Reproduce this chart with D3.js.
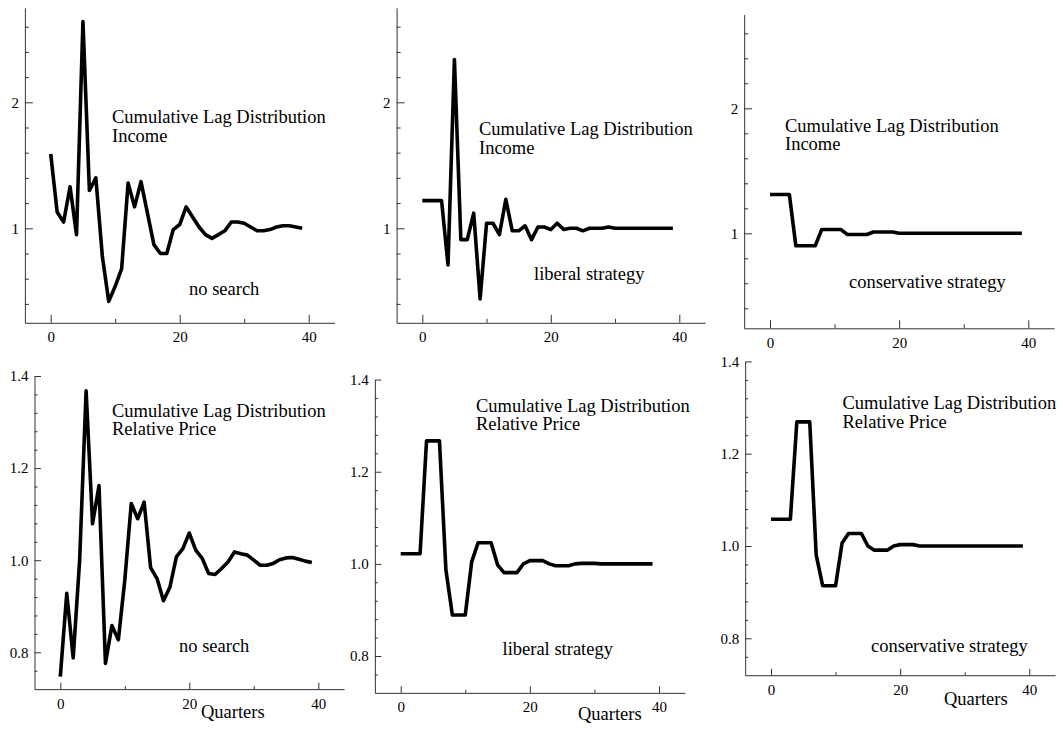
<!DOCTYPE html>
<html>

<head>
    <meta charset="utf-8">
    <script src="https://d3js.org/d3.v7.min.js"></script>
    <title>Cumulative Lag Distributions</title>
    <style>
        body {
            margin: 0;
            background: #fff;
        }

        svg text {
            font-family: 'Liberation Serif', 'Times New Roman', serif;
            fill: #000;
        }

        .axis path,
        .axis line {
            stroke: #333;
            stroke-width: 1px;
        }

        .axis text {
            font-size: 15px;
        }

        .note {
            font-size: 18.5px;
        }

        .series {
            fill: none;
            stroke: #000;
            stroke-width: 3.6px;
            stroke-linejoin: round;
        }
    </style>
</head>

<body>
    <svg id="chart" width="1063" height="729"></svg>

    <script>
        // values, one per quarter (0..39)
        var incomeNoSearch = [1.59, 1.13, 1.05, 1.33, 0.95, 2.64, 1.30, 1.40, 0.78, 0.42,
            0.54, 0.68, 1.36, 1.17, 1.37, 1.12, 0.87, 0.80, 0.80, 0.99,
            1.03, 1.17, 1.09, 1.01, 0.95, 0.92, 0.95, 0.98, 1.05, 1.05,
            1.04, 1.01, 0.98, 0.98, 0.99, 1.01, 1.02, 1.02, 1.01, 1.00];
        var incomeLiberal = [1.22, 1.22, 1.22, 1.22, 0.71, 2.34, 0.91, 0.91, 1.12, 0.44,
            1.04, 1.04, 0.95, 1.23, 0.98, 0.98, 1.02, 0.91, 1.01, 1.01,
            0.99, 1.04, 0.99, 1.00, 1.00, 0.98, 1.00, 1.00, 1.00, 1.01,
            1.00, 1.00, 1.00, 1.00, 1.00, 1.00, 1.00, 1.00, 1.00, 1.00];
        var incomeConservative = [1.31, 1.31, 1.31, 1.31, 0.90, 0.90, 0.90, 0.90, 1.03, 1.03,
            1.03, 1.03, 0.99, 0.99, 0.99, 0.99, 1.01, 1.01, 1.01, 1.01,
            1.00, 1.00, 1.00, 1.00, 1.00, 1.00, 1.00, 1.00, 1.00, 1.00,
            1.00, 1.00, 1.00, 1.00, 1.00, 1.00, 1.00, 1.00, 1.00, 1.00];
        var priceNoSearch = [0.747, 0.928, 0.788, 1.000, 1.368, 1.079, 1.162, 0.776, 0.858, 0.827,
            0.957, 1.123, 1.090, 1.126, 0.984, 0.960, 0.912, 0.942, 1.007, 1.025,
            1.059, 1.022, 1.004, 0.971, 0.969, 0.982, 0.996, 1.018, 1.014, 1.011,
            1.000, 0.989, 0.989, 0.993, 1.001, 1.005, 1.006, 1.002, 0.998, 0.995];
        var priceLiberal = [1.022, 1.022, 1.022, 1.022, 1.267, 1.267, 1.267, 0.987, 0.889, 0.889,
            0.889, 1.005, 1.046, 1.046, 1.046, 0.998, 0.981, 0.981, 0.981, 1.000,
            1.007, 1.007, 1.007, 1.000, 0.996, 0.996, 0.996, 1.000, 1.001, 1.001,
            1.001, 1.000, 1.000, 1.000, 1.000, 1.000, 1.000, 1.000, 1.000, 1.000];
        var priceConservative = [1.058, 1.058, 1.058, 1.058, 1.269, 1.269, 1.269, 0.980, 0.914, 0.914,
            0.914, 1.006, 1.027, 1.027, 1.027, 1.000, 0.991, 0.991, 0.991, 1.000,
            1.003, 1.003, 1.003, 1.000, 1.000, 1.000, 1.000, 1.000, 1.000, 1.000,
            1.000, 1.000, 1.000, 1.000, 1.000, 1.000, 1.000, 1.000, 1.000, 1.000];

        // tick labels
        var xMajor = [0, 20, 40];
        var xMinor = [10, 30];
        var incomeMajor = [1, 2];
        var incomeMinor = [0.4, 0.6, 0.8, 1.2, 1.4, 1.6, 1.8, 2.2, 2.4, 2.6];
        var priceMajor = [0.8, 1.0, 1.2, 1.4];
        var priceMinor = [0.76, 0.84, 0.88, 0.92, 0.96, 1.04, 1.08, 1.12, 1.16, 1.24, 1.28, 1.32, 1.36];

        var titleLine = "Cumulative Lag Distribution";
        var strategies = ["no search", "liberal strategy", "conservative strategy"];
        var variables = ["Income", "Relative Price"];
        var xLabel = "Quarters";

        // panel layout, page pixels
        var panels = [
            { values: incomeNoSearch, kind: "income", x0: 50.7, x40: 308.7, yLo: 228.3, yHi: 102.3,
              title: [112, 123], strat: [189, 295], variable: 0, strategy: 0 },
            { values: incomeLiberal, kind: "income", x0: 422.3, x40: 679.3, yLo: 228.3, yHi: 102.3,
              title: [479, 135], strat: [534, 280], variable: 0, strategy: 1 },
            { values: incomeConservative, kind: "income", x0: 770, x40: 1028.3, yLo: 233.3, yHi: 108.3,
              title: [785, 131.5], strat: [849, 288], variable: 0, strategy: 2 },
            { values: priceNoSearch, kind: "price", x0: 60.3, x40: 318.3, yLo: 652.3, yHi: 376,
              title: [112, 416.5], strat: [179, 651.5], quarters: [201, 718], variable: 1, strategy: 0 },
            { values: priceLiberal, kind: "price", x0: 400.7, x40: 659, yLo: 656, yHi: 379.6,
              title: [476, 411.5], strat: [502.5, 655], quarters: [578, 720], variable: 1, strategy: 1 },
            { values: priceConservative, kind: "price", x0: 771, x40: 1029.3, yLo: 638.3, yHi: 361.4,
              title: [842.5, 409.3], strat: [871, 651.5], quarters: [944, 705], variable: 1, strategy: 2 }
        ];

        var svg = d3.select("#chart");

        panels.forEach(function (p) {
            var income = p.kind === "income";
            // reference values for the pixel anchors
            var vLo = income ? 1 : 0.8,
                vHi = income ? 2 : 1.4;
            var yDomain = income ? [0.25, 2.75] : [0.72, 1.4];
            if (p.strategy === 2 && income) yDomain = [0.24, 2.75];
            var xDomain = [-4, 44];

            var x = d3.scaleLinear().domain([0, 40]).range([p.x0, p.x40]);
            var y = d3.scaleLinear().domain([vLo, vHi]).range([p.yLo, p.yHi]);
            // extend the scales to the axis extents
            var xr = xDomain.map(x),
                yr = yDomain.map(y);
            x.domain(xDomain).range(xr);
            y.domain(yDomain).range(yr);

            var left = xr[0],
                bottom = yr[0];
            var bigTick = income ? 8 : 6.5,
                smallTick = income ? 4 : 3;
            var fmt = income ? d3.format("d") : d3.format(".1f");

            var g = svg.append("g");

            // x axis
            g.append("g")
                .attr("class", "axis")
                .attr("transform", "translate(0," + bottom + ")")
                .call(d3.axisBottom(x).tickValues(xMajor).tickFormat(d3.format("d"))
                    .tickSizeInner(-bigTick).tickSizeOuter(0).tickPadding(9));
            g.append("g")
                .attr("class", "axis")
                .attr("transform", "translate(0," + bottom + ")")
                .call(d3.axisBottom(x).tickValues(xMinor).tickFormat("")
                    .tickSizeInner(-smallTick).tickSizeOuter(0))
                .call(s => s.select(".domain").remove());

            // y axis
            g.append("g")
                .attr("class", "axis")
                .attr("transform", "translate(" + left + ",0)")
                .call(d3.axisLeft(y).tickValues(income ? incomeMajor : priceMajor).tickFormat(fmt)
                    .tickSizeInner(-bigTick).tickSizeOuter(0).tickPadding(6));
            g.append("g")
                .attr("class", "axis")
                .attr("transform", "translate(" + left + ",0)")
                .call(d3.axisLeft(y).tickValues(income ? incomeMinor : priceMinor).tickFormat("")
                    .tickSizeInner(-smallTick).tickSizeOuter(0))
                .call(s => s.select(".domain").remove());

            g.selectAll(".axis").attr("font-family", null).attr("font-size", null);

            // the series
            var line = d3.line()
                .x((d, i) => x(i))
                .y(d => y(d));

            g.append("path")
                .datum(p.values)
                .attr("class", "series")
                .attr("d", line);

            // notes
            g.append("text")
                .attr("class", "note")
                .attr("x", p.title[0])
                .attr("y", p.title[1])
                .text(titleLine);
            g.append("text")
                .attr("class", "note")
                .attr("x", p.title[0])
                .attr("y", p.title[1] + 18.5)
                .text(variables[p.variable]);
            g.append("text")
                .attr("class", "note")
                .attr("x", p.strat[0])
                .attr("y", p.strat[1])
                .text(strategies[p.strategy]);
            if (p.quarters) {
                g.append("text")
                    .attr("class", "note")
                    .attr("x", p.quarters[0])
                    .attr("y", p.quarters[1])
                    .text(xLabel);
            }
        });
    </script>
</body>

</html>
